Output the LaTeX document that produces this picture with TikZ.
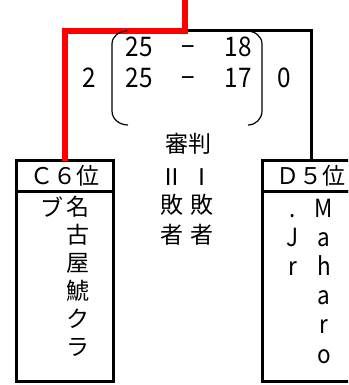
\documentclass[tikz,border=0pt]{standalone}
\usepackage{fontspec}
\setmainfont{Noto Sans CJK JP}
\usetikzlibrary{positioning}

\begin{document}
\begin{tikzpicture}[line join=miter,x=1pt,y=-1pt,
    every node/.style={inner sep=0pt,outer sep=0pt},
    ja/.style={font=\fontsize{23}{23}\selectfont},
    num/.style={font=\fontsize{27}{27}\selectfont,xscale=0.9,anchor=base},
    lat/.style={font=\fontsize{25}{25}\selectfont,xscale=0.9,anchor=base},
    teamhead/.style={draw,line width=3pt,minimum width=97pt,minimum height=30.5pt,anchor=north west},
    teambody/.style={draw,line width=3pt,minimum width=97pt,minimum height=190.5pt,below=0pt of #1}]
  \useasboundingbox (0,0) rectangle (348,385);
  \clip (0,0) rectangle (348,385);
  % team boxes
  \node[teamhead,ja] (chead) at (16.5,160.5) {Ｃ６位};
  \node[teambody=chead] (cbody) {};
  \node[teamhead,ja] (dhead) at (262.5,160.5) {Ｄ５位};
  \node[teambody=dhead] (dbody) {};
  % bracket lines
  \coordinate (top) at (185,0);
  \coordinate (fork) at (185,31);
  \draw[line width=3pt] (fork) -| (dhead.north);
  \draw[red,line width=6.5pt] (top) -- (fork) -| (chead.north);
  % score
  \node[num] (lsets) at (89,88) {2};
  \node[num] (rsets) at (284,88) {0};
  \foreach \y/\a/\b [count=\i] in {57/25/18,88/25/17} {
    \node[num] (sl\i) at (139,\y) {\a};
    \node[num] (sd\i) at (188,\y) {−};
    \node[num] (sr\i) at (238,\y) {\b};
  }
  \draw[line width=1.2pt] (127,31) to[out=180,in=90] (112,44) -- (112,111) to[out=-90,in=180] (128,125);
  \draw[line width=1.2pt] (247,31) to[out=0,in=90] (262,44) -- (262,111) to[out=-90,in=0] (248,125);
  % referee
  \node[ja] (ref) at (188,143.5) {審判};
  \foreach \x/\r [count=\i] in {172/Ⅱ,201.5/Ⅰ} {
    \node[ja] (rn\i) at (\x,177) {\r};
    \node[ja] (rb\i) at (\x,205) {敗};
    \node[ja] (rs\i) at (\x,235) {者};
  }
  % team names
  \foreach \ch [count=\i] in {名,古,屋,鯱,ク,ラ}
    \node[ja] (cn\i) at (78,{207+28*(\i-1)}) {\ch};
  \node[ja] (cn7) at (52,207) {ブ};
  \foreach \ch [count=\i] in {M,a,h,a,r,o}
    \node[lat] (dn\i) at (324,{217+29.2*(\i-1)}) {\ch};
  \foreach \ch [count=\i] in {.,J,r}
    \node[lat] (dj\i) at (293,{217+29.2*(\i-1)}) {\ch};
\end{tikzpicture}
\end{document}
